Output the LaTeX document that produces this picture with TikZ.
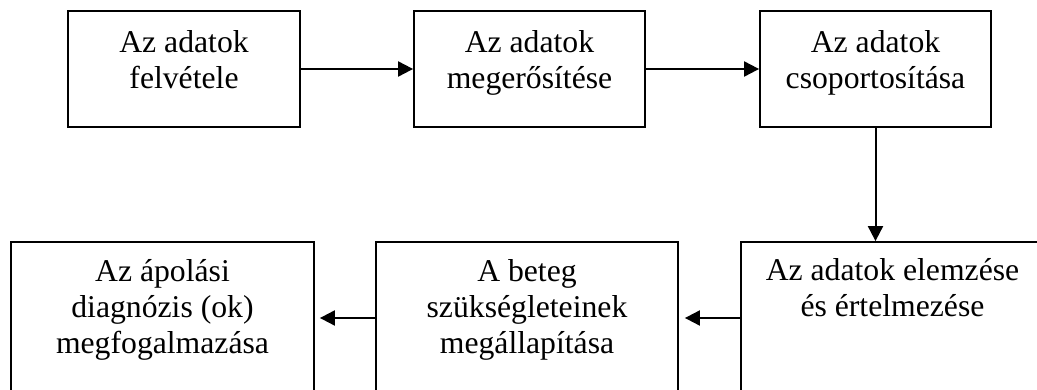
\documentclass[tikz,border=0pt]{standalone}
\usepackage{fontspec}
\setmainfont{Liberation Serif}
\usetikzlibrary{arrows.meta}
\begin{document}
\begin{tikzpicture}[x=1pt,y=-1pt,
  box/.style={draw,line width=1.8pt,rectangle,inner sep=0pt},
  txt/.style={anchor=north,inner sep=0pt,align=center,font={\fontsize{31.7}{36}\selectfont}},
  arr/.style={line width=2pt,-{Triangle[length=15pt,width=15pt]}}]
\useasboundingbox (0,0) rectangle (1037,390);
\clip (0,0) rectangle (1037,390);
% top row
\node[box,minimum width=232pt,minimum height=116pt] (b1) at (184,69) {};
\node[box,minimum width=231pt,minimum height=116pt] (b2) at (529.5,69) {};
\node[box,minimum width=231pt,minimum height=116pt] (b3) at (875.5,69) {};
% bottom row
\node[box,minimum width=303pt,minimum height=152pt] (b4) at (892.5,318) {};
\node[box,minimum width=302pt,minimum height=152pt] (b5) at (527,318) {};
\node[box,minimum width=303pt,minimum height=152pt] (b6) at (162.5,318) {};
% texts
\node[txt] (t1) at (184,30) {Az adatok\\felvétele};
\node[txt] (t2) at (529.5,30) {Az adatok\\megerősítése};
\node[txt] (t3) at (875.5,30) {Az adatok\\csoportosítása};
\node[txt] (t4) at (892.5,258) {Az adatok elemzése\\és értelmezése};
\node[txt] (t5) at (527,259) {A beteg\\szükségleteinek\\megállapítása};
\node[txt] (t6) at (162.5,259) {Az ápolási\\diagnózis (ok)\\megfogalmazása};
% connectors
\draw[arr] (b1.east) -- (b2.west);
\draw[arr] (b2.east) -- (b3.west);
\draw[arr] (b3.south) -- (b3.south |- b4.north);
\draw[arr,shorten >=6pt] (b4.west) -- (b5.east);
\draw[arr,shorten >=5pt] (b5.west) -- (b6.east);
\end{tikzpicture}
\end{document}
